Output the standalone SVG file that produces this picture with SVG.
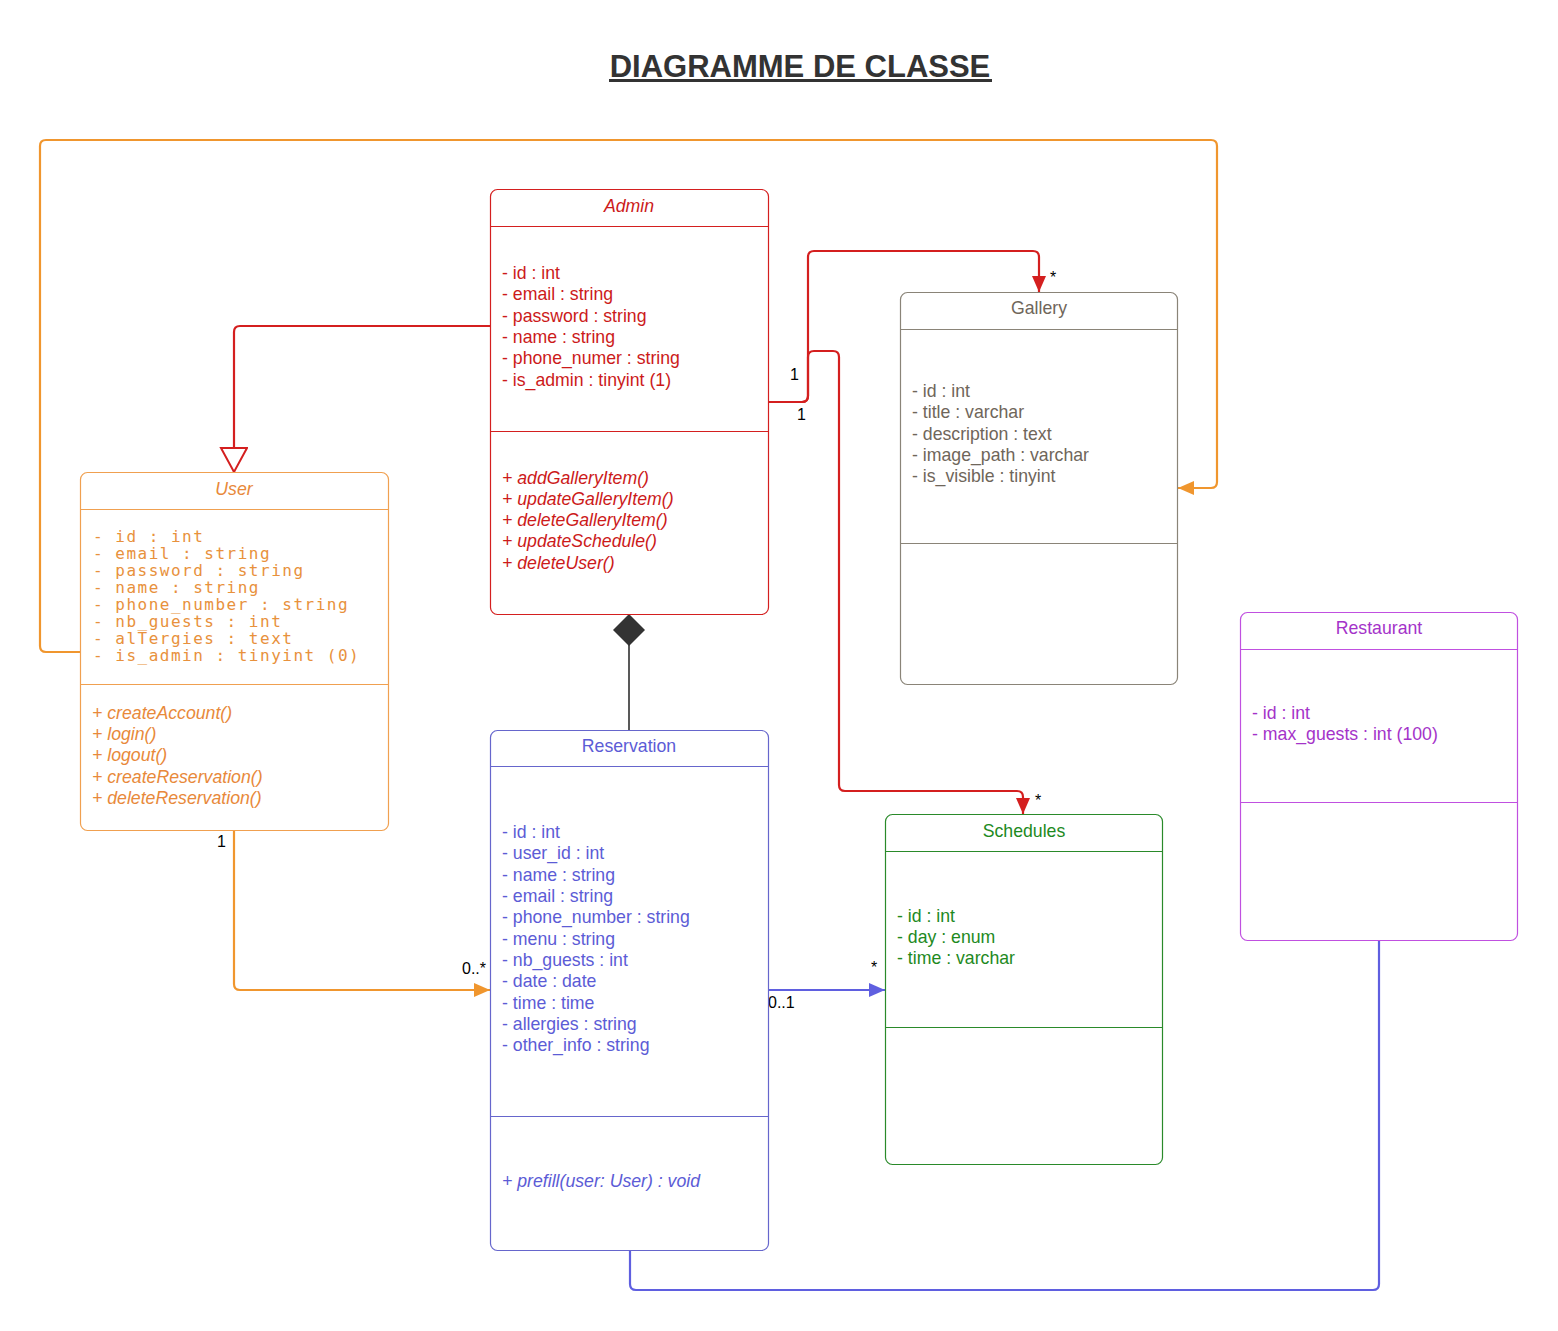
<svg xmlns="http://www.w3.org/2000/svg" width="1558" height="1331" viewBox="0 0 1558 1331">
<style>
.t{font-family:"Liberation Sans",Arial,sans-serif;font-size:17.7px}
.ti{text-anchor:middle}
.it{font-style:italic}
.mono{font-family:"DejaVu Sans Mono","Liberation Mono",monospace;font-size:16px;letter-spacing:1.5px}
.box{fill:#fff;stroke-width:1.2}
.sep{stroke-width:1.2}
.lbl{font-family:"Liberation Sans",Arial,sans-serif;font-size:16px;fill:#000}
.con{fill:none;stroke-width:2.2}
.red{stroke:#d41f1f}.ora{stroke:#f0962e}.blu{stroke:#5f5fe0}
</style>
<defs>
<marker id="aRed" markerUnits="userSpaceOnUse" markerWidth="16" markerHeight="16" refX="16" refY="7" orient="auto"><path d="M0,0 L16,7 L0,14 z" fill="#d41f1f"/></marker>
<marker id="aOra" markerUnits="userSpaceOnUse" markerWidth="16" markerHeight="16" refX="16" refY="7" orient="auto"><path d="M0,0 L16,7 L0,14 z" fill="#f0962e"/></marker>
<marker id="aBlu" markerUnits="userSpaceOnUse" markerWidth="16" markerHeight="16" refX="16" refY="7" orient="auto"><path d="M0,0 L16,7 L0,14 z" fill="#5f5fe0"/></marker>
<marker id="gen" markerUnits="userSpaceOnUse" markerWidth="30" markerHeight="30" refX="25" refY="14" orient="auto"><path d="M1,1 L25,14 L1,27 z" fill="#fff" stroke="#d41f1f" stroke-width="2"/></marker>
</defs>
<rect width="1558" height="1331" fill="#fff"/>
<g id="title">
<text x="800" y="77" text-anchor="middle" font-family="'Liberation Sans',Arial,sans-serif" font-size="31" font-weight="bold" fill="#333">DIAGRAMME DE CLASSE</text>
<rect x="609" y="79" width="383" height="3" fill="#333"/>
</g>
<g id="connectors">
<path class="con red" d="M490,326 H240 Q234,326 234,332 V472" marker-end="url(#gen)"/>
<path class="con ora" d="M80,652 H46 Q40,652 40,646 V146 Q40,140 46,140 H1211 Q1217,140 1217,146 V482 Q1217,488 1211,488 H1178" marker-end="url(#aOra)"/>
<path class="con ora" d="M234,831 V984 Q234,990 240,990 H490" marker-end="url(#aOra)"/>
<path class="con blu" d="M768,990 H885" marker-end="url(#aBlu)"/>
<path class="con red" d="M768,402 H802 Q808,402 808,396 V257 Q808,251 814,251 H1033 Q1039,251 1039,257 V292" marker-end="url(#aRed)"/>
<path class="con red" d="M768,402 H802 Q808,402 808,396 V357 Q808,351 814,351 H833 Q839,351 839,357 V785 Q839,791 845,791 H1017 Q1023,791 1023,797 V814" marker-end="url(#aRed)"/>
<path fill="none" stroke="#222" stroke-width="1.5" d="M629,730 V645"/>
<polygon points="629,614 645,630 629,646 613,630" fill="#333"/>
<path class="con blu" d="M630,1250 V1284 Q630,1290 636,1290 H1373 Q1379,1290 1379,1284 V940"/>
<text class="lbl" x="217" y="847">1</text>
<text class="lbl" x="462" y="974">0..*</text>
<text class="lbl" x="768" y="1008">0..1</text>
<text class="lbl" x="871" y="973">*</text>
<text class="lbl" x="790" y="380">1</text>
<text class="lbl" x="797" y="420">1</text>
<text class="lbl" x="1050" y="283">*</text>
<text class="lbl" x="1035" y="806">*</text>
</g>
<g id="admin">
<rect class="box" x="490.5" y="189.5" width="278" height="425" rx="7" stroke="#d41f1f"/>
<line class="sep" x1="490.5" y1="226.5" x2="768.5" y2="226.5" stroke="#d41f1f"/>
<line class="sep" x1="490.5" y1="431.5" x2="768.5" y2="431.5" stroke="#d41f1f"/>
<g class="t" fill="#cc1a1a">
<text class="ti it" x="629" y="212">Admin</text>
<text x="502" y="279">- id : int</text>
<text x="502" y="300">- email : string</text>
<text x="502" y="322">- password : string</text>
<text x="502" y="343">- name : string</text>
<text x="502" y="364">- phone_numer : string</text>
<text x="502" y="386">- is_admin : tinyint (1)</text>
<g class="it">
<text x="502" y="484">+ addGalleryItem()</text>
<text x="502" y="505">+ updateGalleryItem()</text>
<text x="502" y="526">+ deleteGalleryItem()</text>
<text x="502" y="547">+ updateSchedule()</text>
<text x="502" y="569">+ deleteUser()</text>
</g>
</g>
</g>
<g id="user">
<rect class="box" x="80.5" y="472.5" width="308" height="358" rx="7" stroke="#f0a050"/>
<line class="sep" x1="80.5" y1="509.5" x2="388.5" y2="509.5" stroke="#f0a050"/>
<line class="sep" x1="80.5" y1="684.5" x2="388.5" y2="684.5" stroke="#f0a050"/>
<text class="t ti it" x="234" y="495" fill="#e8893a">User</text>
<g class="mono" fill="#e8913c">
<text x="93" y="542">- id : int</text>
<text x="93" y="559">- email : string</text>
<text x="93" y="576">- password : string</text>
<text x="93" y="593">- name : string</text>
<text x="93" y="610">- phone_number : string</text>
<text x="93" y="627">- nb_guests : int</text>
<text x="93" y="644">- alTergies : text</text>
<text x="93" y="661">- is_admin : tinyint (0)</text>
</g>
<g class="t it" fill="#e8893a">
<text x="92" y="719">+ createAccount()</text>
<text x="92" y="740">+ login()</text>
<text x="92" y="761">+ logout()</text>
<text x="92" y="783">+ createReservation()</text>
<text x="92" y="804">+ deleteReservation()</text>
</g>
</g>
<g id="gallery">
<rect class="box" x="900.5" y="292.5" width="277" height="392" rx="7" stroke="#8a8478"/>
<line class="sep" x1="900.5" y1="329.5" x2="1177.5" y2="329.5" stroke="#8a8478"/>
<line class="sep" x1="900.5" y1="543.5" x2="1177.5" y2="543.5" stroke="#8a8478"/>
<g class="t" fill="#6f665a">
<text class="ti" x="1039" y="314">Gallery</text>
<text x="912" y="397">- id : int</text>
<text x="912" y="418">- title : varchar</text>
<text x="912" y="440">- description : text</text>
<text x="912" y="461">- image_path : varchar</text>
<text x="912" y="482">- is_visible : tinyint</text>
</g>
</g>
<g id="reservation">
<rect class="box" x="490.5" y="730.5" width="278" height="520" rx="7" stroke="#6666cc"/>
<line class="sep" x1="490.5" y1="766.5" x2="768.5" y2="766.5" stroke="#6666cc"/>
<line class="sep" x1="490.5" y1="1116.5" x2="768.5" y2="1116.5" stroke="#6666cc"/>
<g class="t" fill="#5c5cd6">
<text class="ti" x="629" y="752">Reservation</text>
<text x="502" y="838">- id : int</text>
<text x="502" y="859">- user_id : int</text>
<text x="502" y="881">- name : string</text>
<text x="502" y="902">- email : string</text>
<text x="502" y="923">- phone_number : string</text>
<text x="502" y="945">- menu : string</text>
<text x="502" y="966">- nb_guests : int</text>
<text x="502" y="987">- date : date</text>
<text x="502" y="1009">- time : time</text>
<text x="502" y="1030">- allergies : string</text>
<text x="502" y="1051">- other_info : string</text>
<text class="it" x="502" y="1187">+ prefill(user: User) : void</text>
</g>
</g>
<g id="schedules">
<rect class="box" x="885.5" y="814.5" width="277" height="350" rx="7" stroke="#2a8a2a"/>
<line class="sep" x1="885.5" y1="851.5" x2="1162.5" y2="851.5" stroke="#2a8a2a"/>
<line class="sep" x1="885.5" y1="1027.5" x2="1162.5" y2="1027.5" stroke="#2a8a2a"/>
<g class="t" fill="#1e8a1e">
<text class="ti" x="1024" y="837">Schedules</text>
<text x="897" y="922">- id : int</text>
<text x="897" y="943">- day : enum</text>
<text x="897" y="964">- time : varchar</text>
</g>
</g>
<g id="restaurant">
<rect class="box" x="1240.5" y="612.5" width="277" height="328" rx="7" stroke="#c050e0"/>
<line class="sep" x1="1240.5" y1="649.5" x2="1517.5" y2="649.5" stroke="#c050e0"/>
<line class="sep" x1="1240.5" y1="802.5" x2="1517.5" y2="802.5" stroke="#c050e0"/>
<g class="t" fill="#a433c9">
<text class="ti" x="1379" y="634">Restaurant</text>
<text x="1252" y="719">- id : int</text>
<text x="1252" y="740">- max_guests : int (100)</text>
</g>
</g>
</svg>
